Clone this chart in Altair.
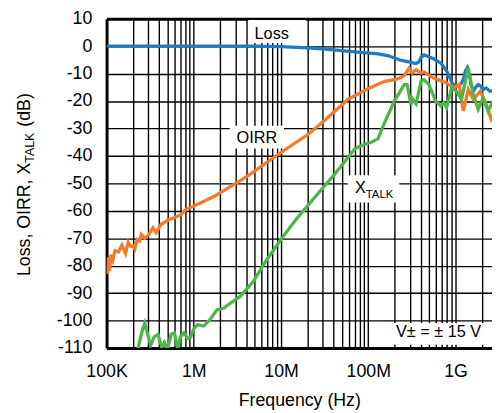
import altair as alt
import pandas as pd

FONT = "Liberation Sans, Arial, sans-serif"

# ---- data (frequency in MHz, level in dB) ----
loss_f = [0.1, 1, 5, 10, 20, 35, 70, 130, 170, 200, 240, 300, 350, 380, 400, 435, 470,
          560, 680, 790, 860, 920, 1030, 1150, 1230, 1300, 1370, 1450, 1500, 1600, 1700,
          1820, 1950, 2070, 2250, 2480, 2690]
loss_db = [0, 0, 0, -0.2, -0.6, -1.2, -2.1, -2.8, -3.5, -4.3, -5.2, -5.8, -6.3, -5.8, -4.2,
           -3.2, -3.6, -4.6, -6.2, -9.0, -11.5, -13.6, -14.6, -13.8, -12.1, -9.0, -7.8,
           -10.5, -13.9, -16.4, -15.0, -14.0, -14.6, -15.8, -15.2, -16.4, -16.2]

oirr_f = [0.100, 0.102, 0.105, 0.108, 0.112, 0.118, 0.125, 0.137, 0.150, 0.165, 0.177,
          0.19, 0.202, 0.211, 0.225, 0.24, 0.25, 0.274, 0.30, 0.34, 0.37, 0.42, 0.52,
          0.60, 0.71, 0.81, 1.0, 1.7, 4.0, 9.5, 20.7, 29.6, 58.6, 100, 154, 200, 230,
          258, 294, 318, 353, 403, 435, 560, 790, 950, 1100, 1230, 1400, 1600, 1920,
          2240, 2550, 2690]
oirr_db = [-80, -83, -77, -82, -76, -78, -74.5, -75, -72.5, -75.5, -71.5, -73, -72.8, -74,
           -70.5, -71, -68.6, -70, -69, -66.2, -68, -65, -63.2, -62.5, -61.4, -59.6,
           -58.3, -54.8, -47.6, -39.2, -32, -27.8, -19.4, -15.4, -12.8, -12.2, -11.6,
           -10.8, -8, -9.8, -8.6, -9.8, -9.4, -11.6, -13.4, -15.2, -14, -23.6, -15.8,
           -19.4, -16.4, -21, -26.5, -25]

xtalk_f = [0.1, 0.2, 0.23, 0.255, 0.274, 0.29, 0.32, 0.35, 0.39, 0.43, 0.46, 0.5, 0.55,
           0.60, 0.65, 0.70, 0.77, 0.85, 0.92, 1.0, 1.1, 1.3, 1.53, 1.84, 2.19, 2.61,
           3.38, 4.78, 6.77, 10, 14.8, 24.8, 41.8, 70.3, 83.7, 108, 129, 141, 154, 199,
           258, 279, 308, 318, 353, 403, 435, 495, 594, 677, 731, 791, 902, 1026, 1170,
           1400, 1600, 1820, 2070, 2360, 2690]
xtalk_db = [-114, -113, -110, -104, -101, -104, -109, -106, -105, -110, -108, -110.5, -105,
            -104.5, -110, -106, -104.5, -106.5, -106, -103, -101.5, -102, -99.7, -96.1,
            -95.5, -93.7, -91.3, -85.9, -78.1, -70.4, -63.2, -54.8, -46.4, -37.4, -36.2,
            -35, -33.8, -30.8, -27.8, -20, -14, -14, -21.2, -19, -21, -12.8, -12.2, -14,
            -20, -21.8, -20.6, -22.4, -15.2, -16.4, -19.4, -8, -17.6, -23, -18.8, -23.6,
            -20]

series_names = ["Loss", "OIRR", "XTALK"]
series_colors = ["#1f7cc4", "#f47a2a", "#4cb748"]

# annotation boxes (MHz, dB)
box_f1 = [4.21, 2.58, 58.2, 189]
box_f2 = [19.1, 10.8, 227, 2690]
box_d1 = [9.5, -29, -47, -100.9]
box_d2 = [1.2, -37.3, -57, -108.8]

F_MIN = 1e5
F_MAX = 2.62e9

frames = []
for name, f, d in [("Loss", loss_f, loss_db), ("OIRR", oirr_f, oirr_db), ("XTALK", xtalk_f, xtalk_db)]:
    frames.append(pd.DataFrame({"series": name, "freq": [v * 1e6 for v in f], "db": d}))
lines_df = pd.concat(frames, ignore_index=True)

box_df = pd.DataFrame({"f1": [v * 1e6 for v in box_f1], "f2": [v * 1e6 for v in box_f2],
                       "d1": box_d1, "d2": box_d2})

xscale = alt.Scale(type="log", domain=[F_MIN, F_MAX], nice=False)
yscale = alt.Scale(domain=[-110, 10], nice=False, zero=False)

grid_vals = [k * 10 ** n for n in range(5, 10) for k in range(1, 10) if k * 10 ** n <= F_MAX]
label_expr = ("datum.value == 100000 ? '100K' : datum.value == 1000000 ? '1M' : "
              "datum.value == 10000000 ? '10M' : datum.value == 100000000 ? '100M' : "
              "datum.value == 1000000000 ? '1G' : ''")

xaxis = alt.Axis(values=grid_vals, labelExpr=label_expr, grid=True, gridColor="black",
                 gridOpacity=1,
                 gridWidth={"condition": {"test": "datum.value == 100000", "value": 3}, "value": 1.4},
                 domain=False, ticks=False, tickSize=0, labelFontSize=18, labelFont=FONT,
                 labelColor="black", labelPadding=15, labelOverlap=False, labelFlush=False,
                 title="Frequency (Hz)", titleFontSize=18, titleFont=FONT,
                 titleFontWeight="normal", titleColor="black", titlePadding=11)
yaxis = alt.Axis(values=list(range(-110, 11, 10)), labelExpr="'' + datum.value", grid=True,
                 gridColor="black", gridOpacity=1,
                 gridWidth={"condition": {"test": "datum.value == 10 || datum.value == -110", "value": 3},
                            "value": 1.4},
                 domain=False, ticks=False, tickSize=0, labelFontSize=18, labelFont=FONT,
                 labelColor="black", labelPadding=15, title=None)

lines = alt.Chart(lines_df).mark_line(strokeWidth=3.3, clip=True).encode(
    x=alt.X("freq:Q", scale=xscale, axis=xaxis),
    y=alt.Y("db:Q", scale=yscale, axis=yaxis),
    color=alt.Color("series:N", scale=alt.Scale(domain=series_names, range=series_colors), legend=None),
)

boxes = alt.Chart(box_df).mark_rect(color="white", clip=True).encode(
    x=alt.X("f1:Q", scale=xscale, axis=xaxis), x2="f2",
    y=alt.Y("d1:Q", scale=yscale, axis=yaxis), y2="d2",
)


def label(text, f_mhz, db, size, align="center", dx=0, dy=0):
    df = pd.DataFrame({"t": [text], "f": [f_mhz * 1e6], "d": [db]})
    return alt.Chart(df).mark_text(fontSize=size, font=FONT, color="black", align=align,
                                   baseline="alphabetic", dx=dx, dy=dy).encode(
        x=alt.X("f:Q", scale=xscale, axis=xaxis),
        y=alt.Y("d:Q", scale=yscale, axis=yaxis),
        text="t:N",
    )


def ytitle(text, px, py, size):
    df = pd.DataFrame({"t": [text]})
    return alt.Chart(df).mark_text(fontSize=size, font=FONT, color="black", align="left",
                                   baseline="alphabetic", angle=270).encode(
        x=alt.value(px), y=alt.value(py), text="t:N")


chart = alt.layer(
    boxes,
    lines,
    label("Loss", 7.82, 2.8, 16.5),
    label("OIRR", 5.28, -35.4, 16.5),
    label("X", 70.3, -53.6, 16.5, align="left"),
    label("TALK", 70.3, -53.6, 11.5, align="left", dx=11, dy=5),
    label("V\u00b1 = \u00b1 15 V", 208, -106.1, 16.5, align="left"),
    ytitle("Loss, OIRR, X", -78, 261, 18),
    ytitle("TALK", -74, 146, 12.5),
    ytitle("(dB)", -78, 109.5, 18),
).properties(
    width=391, height=334,
    padding={"left": 100, "top": 8, "right": 0, "bottom": 60},
    autosize=alt.AutoSizeParams(type="none"),
).configure_view(stroke=None).configure(font=FONT)

chart.save("out.html", embed_options={"renderer": "svg", "actions": False})
